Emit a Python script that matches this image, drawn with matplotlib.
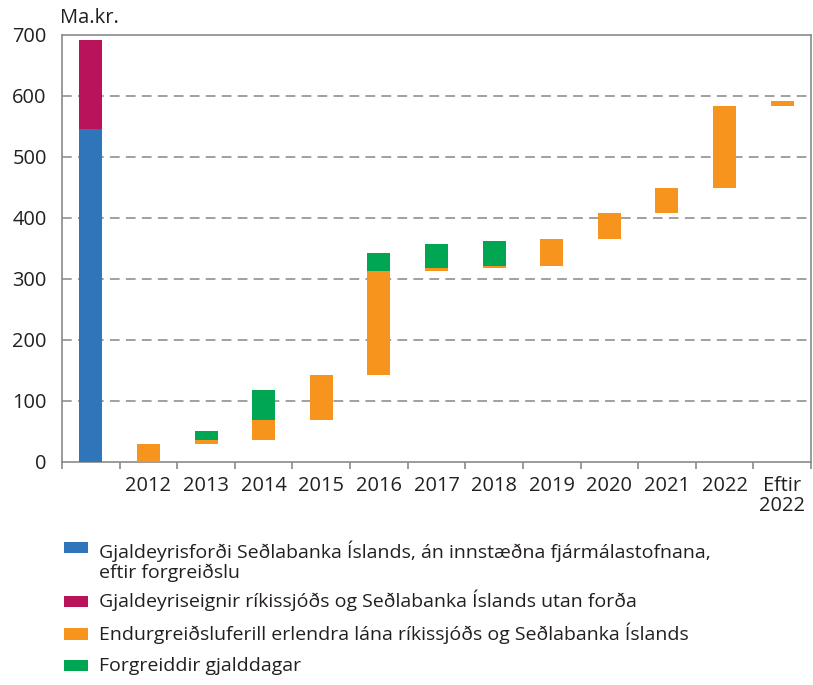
import numpy as np
import matplotlib
matplotlib.use('Agg')
import matplotlib.pyplot as plt
from matplotlib.patches import Rectangle

# ---------------- data ----------------
categories = ['', '2012', '2013', '2014', '2015', '2016', '2017', '2018',
              '2019', '2020', '2021', '2022', 'Eftir\n2022']
reserves = [546]          # Gjaldeyrisforði (first column only)
other_assets = [146]      # Gjaldeyriseignir utan forða (first column only)
repayments = [29, 7, 33, 74, 170, 5, 3, 45, 42, 41, 134, 9]     # 2012 .. Eftir 2022
prepaid = [0, 15, 49, 0, 30, 39, 41, 0, 0, 0, 0, 0]             # 2012 .. Eftir 2022
y_ticks = [0, 100, 200, 300, 400, 500, 600, 700]
unit_label = 'Ma.kr.'
legend_labels = [
    'Gjaldeyrisforði Seðlabanka Íslands, án innstæðna fjármálastofnana,\neftir forgreiðslu',
    'Gjaldeyriseignir ríkissjóðs og Seðlabanka Íslands utan forða',
    'Endurgreiðsluferill erlendra lána ríkissjóðs og Seðlabanka Íslands',
    'Forgreiddir gjalddagar',
]
colors = ['#2E75BA', '#B8135B', '#F7941E', '#00A651']

# ---------------- style ----------------
plt.rcParams['font.family'] = ['Open Sans', 'DejaVu Sans']
plt.rcParams['lines.scale_dashes'] = False
W, H = 813, 685
fig = plt.figure(figsize=(W / 100, H / 100), dpi=100)

ax_l, ax_r, ax_t, ax_b = 62, 811, 35, 461.7
ax = fig.add_axes([ax_l / W, 1 - ax_b / H, (ax_r - ax_l) / W, (ax_b - ax_t) / H])

bw = 0.4
# first column
ax.bar([0], reserves, width=bw, color=colors[0], zorder=3)
ax.bar([0], other_assets, bottom=reserves, width=bw, color=colors[1], zorder=3)

# waterfall of repayments
x = np.arange(1, len(categories))
rep = np.array(repayments, dtype=float)
pre = np.array(prepaid, dtype=float)
rep_bottom = np.concatenate([[0], np.cumsum(rep)[:-1]])
ax.bar(x, rep, bottom=rep_bottom, width=bw, color=colors[2], zorder=3)
ax.bar(x, pre, bottom=rep_bottom + rep, width=bw, color=colors[3], zorder=3)

ax.set_xlim(-0.5, len(categories) - 0.5)
ax.set_ylim(0, 700)

spine_c = '#8a8a8a'
for s in ax.spines.values():
    s.set_color(spine_c)
    s.set_linewidth(1.2)

ax.set_yticks(y_ticks)
ax.set_yticklabels([str(v) for v in y_ticks])
ax.tick_params(axis='y', length=0, pad=11, labelsize=14.4, labelcolor='#231f20')

ax.set_xticks(np.arange(-0.5, len(categories)), [''] * (len(categories) + 1))
ax.set_xticks(np.arange(len(categories)), categories, minor=True)
ax.tick_params(axis='x', which='major', length=5, width=1.2, color=spine_c, direction='out')
ax.tick_params(axis='x', which='minor', length=0, pad=10, labelsize=14.4, labelcolor='#231f20')
for lbl in ax.get_xticklabels(minor=True):
    lbl.set_linespacing(1.02)

for v in y_ticks[1:-1]:
    ax.axhline(v, color='#909090', lw=1.2, ls=(0, (7, 4.5)), zorder=1)

fig.text(60 / W, 1 - 22.7 / H, unit_label, fontsize=14.4, color='#231f20',
         ha='left', va='baseline')

# ---------------- legend (drawn manually) ----------------
sq_top = [541.7, 595.5, 628.0, 659.5]
line_gap = 25
for lab, col, top in zip(legend_labels, colors, sq_top):
    fig.add_artist(Rectangle((63.5 / W, 1 - (top + 11.7) / H), 24 / W, 11.7 / H,
                             transform=fig.transFigure, facecolor=col,
                             edgecolor='none'))
    base = top + 11.7 + line_gap * lab.count('\n')
    fig.text(99 / W, 1 - base / H, lab, fontsize=14.0, color='#231f20',
             ha='left', va='baseline', linespacing=1.12)

fig.savefig('out.png', dpi=100)
